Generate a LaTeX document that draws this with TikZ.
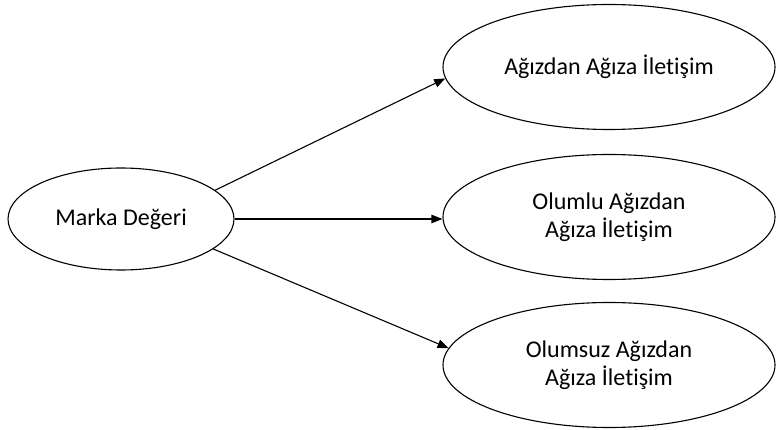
\documentclass[tikz,border=0pt]{standalone}
\usepackage{fontspec}
\setmainfont[Ligatures=NoCommon]{Carlito}
\usetikzlibrary{arrows.meta,shapes.geometric}
\tikzset{
  concept/.style={draw, ellipse, line width=1.1pt, align=center, inner sep=0pt, font=\fontsize{24}{28}\selectfont},
  arrow/.style={-{Triangle[length=11pt,width=8.5pt]}, line width=1.1pt}
}

\begin{document}
\begin{tikzpicture}[
  x=1pt,y=-1pt,
  small/.style={minimum width=226pt, minimum height=102pt},
  big/.style={minimum width=332pt, minimum height=125pt}
]
  \useasboundingbox (0,0) rectangle (777,430);

  \node[concept, small] (marka) at (121,219) {Marka Değeri};

  \node[concept, big] (agiz) at (609,67) {Ağızdan Ağıza İletişim};
  \node[concept, big] (olumlu) at (609,217) {Olumlu Ağızdan\\Ağıza İletişim};
  \node[concept, big] (olumsuz) at (609,365) {Olumsuz Ağızdan\\Ağıza İletişim};

  \draw[arrow] (marka.17) -- (agiz.184);
  \draw[arrow] (marka.east) -- (marka.east -| olumlu.west);
  \draw[arrow] (marka.-18) -- (olumsuz.174);
\end{tikzpicture}
\end{document}
